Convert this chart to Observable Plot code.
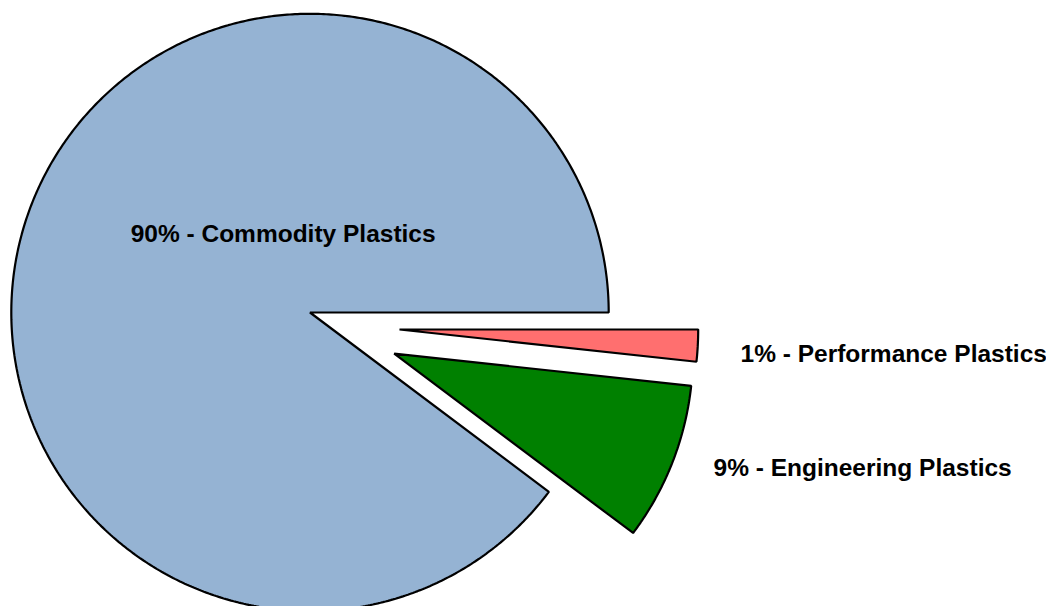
<!DOCTYPE html>
<html><head><meta charset="utf-8">
<script src="https://cdn.jsdelivr.net/npm/d3@7"></script>
<script src="https://cdn.jsdelivr.net/npm/@observablehq/plot@0.6"></script>
<style>html,body{margin:0;padding:0;background:#fff;overflow:hidden}svg{display:block}</style>
</head><body><div id="chart"></div>
<script>
// ---- data ----
const categories = ["Commodity Plastics", "Engineering Plastics", "Performance Plastics"];
const shares = [89.75, 8.53, 1.72];
const labels = ["90% - Commodity Plastics", "9% - Engineering Plastics", "1% - Performance Plastics"];
const colors = ["#95b3d3", "#008000", "#ff6f6f"];

// ---- layout (in pie-radius units) ----
const layout = {
  radiusPx: 298.7,
  centerPx: [309.5, 312],
  explode: [0, 0.258, 0.258],
  shift: [[0, 0], [0.042, -0.043], [0.042, -0.043]],
  label: [
    {x: -0.090, y: 0.2635, anchor: "middle"},
    {x: 1.3509, y: -0.5223, anchor: "start"},
    {x: 1.4413, y: -0.1406, anchor: "start"}
  ]
};

const W = 1046, H = 606;
const R = layout.radiusPx, [cxp, cyp] = layout.centerPx;
const total = d3.sum(shares);
const ends = Array.from(d3.cumsum(shares), v => v / total * 2 * Math.PI);
const starts = [0, ...ends.slice(0, -1)];

const slices = categories.map((name, i) => {
  const a0 = starts[i], a1 = ends[i], mid = (a0 + a1) / 2;
  const cx = layout.shift[i][0] + layout.explode[i] * Math.cos(mid);
  const cy = layout.shift[i][1] + layout.explode[i] * Math.sin(mid);
  const n = Math.max(2, Math.ceil((a1 - a0) / (Math.PI / 360)));
  const pts = [{x: cx, y: cy}];
  for (const t of d3.range(n + 1)) {
    const a = a0 + (a1 - a0) * t / n;
    pts.push({x: cx + Math.cos(a), y: cy + Math.sin(a)});
  }
  return {name, pts, color: colors[i]};
});

const labelData = labels.map((text, i) => ({text, ...layout.label[i]}));

const chart = Plot.plot({
  width: W, height: H, margin: 0,
  x: {domain: [-cxp / R, (W - cxp) / R], axis: null},
  y: {domain: [-(H - cyp) / R, cyp / R], axis: null},
  style: {background: "#fff"},
  marks: [
    ...slices.map(s => Plot.line(s.pts, {
      x: "x", y: "y", fill: s.color, stroke: "#000", strokeWidth: 2.2,
      curve: "linear-closed", strokeLinejoin: "miter", strokeLinecap: "butt"
    })),
    ...["start", "middle"].map(anchor => Plot.text(labelData.filter(d => d.anchor === anchor), {
      x: "x", y: "y", text: "text", textAnchor: anchor, lineAnchor: "middle",
      fontFamily: "'Liberation Sans', Arial, sans-serif", fontSize: 24.5, fontWeight: "bold", fill: "#000"
    }))
  ]
});
document.getElementById("chart").append(chart);
</script>
</body></html>
